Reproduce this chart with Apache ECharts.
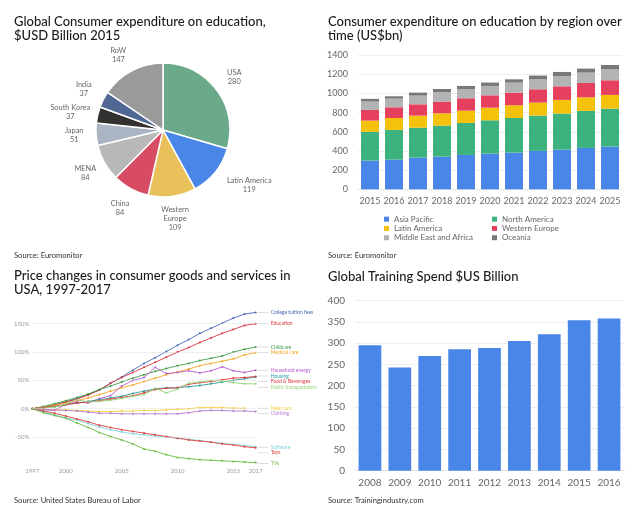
<!DOCTYPE html>
<html>
<head>
<meta charset="utf-8">
<script src="https://cdn.jsdelivr.net/npm/echarts@6/dist/echarts.min.js"></script>
<style>
html,body{margin:0;padding:0;background:#fff;}
#c{width:631px;height:515px;}
</style>
</head>
<body>
<div id="c"></div>
<script>
// ---- Panel 1: pie ----
const pieNames = ['USA','Latin America','Western Europe','China','MENA','Japan','South Korea','India','RoW'];
const pieValues = [280,119,109,84,84,51,37,37,147];

// ---- Panel 2: stacked bars ----
const regionYears = ['2015','2016','2017','2018','2019','2020','2021','2022','2023','2024','2025'];
const asiaPacific   = [300,310,331,341,359,373,383,401,414,432,446];
const northAmerica  = [300,310,313,324,334,348,362,369,377,387,397];
const latinAmerica  = [118,125,126,129,129,132,133,136,143,142,143];
const westernEurope = [112,112,118,122,129,129,132,139,142,150,153];
const middleEastAfrica = [87,90,91,98,94,98,105,104,108,108,118];
const oceania       = [28,25,31,34,35,35,34,39,42,42,42];
const regionNames = ['Asia Pacific','North America','Latin America','Western Europe','Middle East and Africa','Oceania'];

// ---- Panel 3: price changes ----
const priceYears = ['1997','1998','1999','2000','2001','2002','2003','2004','2005','2006','2007','2008','2009','2010','2011','2012','2013','2014','2015','2016','2017'];
const priceYearLabels = ['1997','2000','2005','2010','2015','2017'];
const priceTicks = [-50,0,50,100,150];
const tuition   = [0,3,7,12,18,25,33,45,56,68,80,90,101,112,122,133,142,151,160,167,170];
const education = [0,3,7,12,17,24,33,45,55,64,73,82,91,100,108,117,125,133,140,147,150];
const childcare = [0,4,9,14,20,26,34,40,47,54,60,66,71,76,80,85,89,93,100,105,109];
const medical   = [0,3,6,10,14,19,25,31,37,42,48,54,60,65,70,76,80,84,88,95,99];
const energy    = [0,-2,-3,8,12,10,18,23,40,50,55,73,62,64,67,63,67,74,67,64,68];
const housing   = [0,2,4,7,10,13,16,19,22,27,31,35,37,37,39,41,44,47,50,53,56];
const food      = [0,2,4,7,10,12,14,17,20,23,28,34,36,37,43,46,48,51,54,55,57];
const transport = [0,1,3,8,16,12,13,15,18,22,25,36,28,35,45,47,50,49,46,44,44];
const newCars   = [0,-1,-2,-2,-3,-4,-5,-5,-4,-4,-3,-3,-2,-1,0,2,2,2,1,1,null];
const clothing  = [0,-1,-2,-3,-4,-6,-8,-8,-9,-9,-9,-9,-9,-9,-7,-4,-3,-3,-4,-4,-5];
const software  = [0,-5,-11,-16,-20,-26,-32,-37,-41,-44,-46,-48,-50,-52,-54,-56,-59,-61,-63,-65,-67];
const toys      = [0,-4,-8,-13,-18,-23,-29,-33,-37,-40,-43,-46,-49,-52,-55,-57,-59,-62,-64,-67,-69];
const tvs       = [0,-7,-12,-17,-25,-33,-42,-49,-55,-62,-71,-75,-81,-86,-88,-90,-91,-92,-93,-94,-95];

// ---- Panel 4: training spend ----
const trainingYears = ['2008','2009','2010','2011','2012','2013','2014','2015','2016'];
const trainingSpend = [295,243,270,286,289,305,321,354,358];

const font = 'Lato';
const pieColors = ['#6aaa8a','#4a86e8','#e8c15a','#d84c63','#b8b8b6','#aab4c2','#333130','#4f6792','#9a9a9a'];
const pieLabelNudge = {'Latin America': [17, -1], 'South Korea': [-6, 2], 'RoW': [-3, 4]};
const regionColors = ['#4a86e8','#3cb37f','#f4c20d','#e5415f','#b3b3b3','#787878'];

const priceSeriesDef = [
  ['College tuition fees', tuition,  '#4a68b8', 0, 0],
  ['Education',            education,'#d9363e', 0, 0],
  ['Childcare',            childcare,'#3e9e48', 0, 0],
  ['Medical care',         medical,  '#f5a623', 0, 0],
  ['Household energy',     energy,   '#b55ccf', 0, 0],
  ['Housing',              housing,  '#2b9a9a', 0, -1],
  ['Food & Beverages',     food,     '#e03a3a', 0, 5],
  ['Public transportation',transport,'#96d47a', 0, 3.5],
  ['New cars',             newCars,  '#f5cc3c', 11.2, 0],
  ['Clothing',             clothing, '#b27acb', 0, 2],
  ['Software',             software, '#7fd2df', 0, 0.5],
  ['Toys',                 toys,     '#e3413b', 0, 5],
  ['TVs',                  tvs,      '#69bb3d', 0, 1]
];

const titleStyle = {fontSize: 13, fontWeight: 500, color: '#1b1b1b', lineHeight: 14, fontFamily: font};
const srcStyle = {fontSize: 7.6, fontWeight: 'normal', color: '#333', fontFamily: font};

const series = [];

series.push({
  type: 'pie',
  center: [163, 130],
  radius: 67,
  startAngle: 90,
  clockwise: true,
  data: pieNames.map((n, i) => ({name: n, value: pieValues[i], itemStyle: {color: pieColors[i]}})),
  itemStyle: {borderColor: '#fff', borderWidth: 1.5},
  label: {show: false},
  labelLine: {show: false},
  silent: true
});
// transparent ring that only carries the centred labels
series.push({
  type: 'pie',
  center: [163, 130],
  radius: [68, 104],
  startAngle: 90,
  clockwise: true,
  data: pieNames.map((n, i) => {
    const item = {name: n, value: pieValues[i]};
    if (pieLabelNudge[n]) item.label = {offset: pieLabelNudge[n]};
    return item;
  }),
  itemStyle: {color: 'rgba(0,0,0,0)', borderWidth: 0},
  label: {
    show: true, position: 'inside', color: '#666', fontSize: 7.4, lineHeight: 9, fontFamily: font,
    align: 'center',
    formatter: p => (p.name === 'Western Europe' ? 'Western\nEurope' : p.name) + '\n' + p.value
  },
  labelLine: {show: false},
  emphasis: {disabled: true},
  silent: true
});

const regionData = [asiaPacific, northAmerica, latinAmerica, westernEurope, middleEastAfrica, oceania];
regionNames.forEach((n, i) => {
  series.push({
    name: n, type: 'bar', stack: 'region', xAxisIndex: 0, yAxisIndex: 0,
    data: regionData[i], itemStyle: {color: regionColors[i]}, barCategoryGap: '25%'
  });
});

priceSeriesDef.forEach((d, i) => {
  const s = {
    name: d[0], type: 'line', xAxisIndex: 1, yAxisIndex: 1, data: d[1],
    symbol: 'circle', symbolSize: 2, showSymbol: true,
    lineStyle: {width: 0.9, color: d[2]}, itemStyle: {color: d[2]},
    clip: false, silent: true,
    endLabel: {
      show: true, distance: 2, offset: [d[3], d[4]],
      formatter: '{l| }{n|' + d[0] + '}',
      rich: {
        l: {width: 11, height: 0.6, backgroundColor: '#c8c8c8'},
        n: {fontSize: 5, color: d[2], fontFamily: font, padding: [0, 0, 0, 2]}
      }
    }
  };
  if (i === 0) {
    s.markLine = {
      silent: true, symbol: 'none', label: {show: false},
      lineStyle: {type: 'dotted', color: '#d8d8d8', width: 0.8},
      data: priceTicks.map(v => ({yAxis: v}))
    };
  }
  series.push(s);
});

series.push({
  type: 'bar', xAxisIndex: 2, yAxisIndex: 2, data: trainingSpend,
  itemStyle: {color: '#4a86e8'}, barCategoryGap: '24%'
});

const option = {
  animation: false,
  textStyle: {fontFamily: font},
  title: [
    {text: 'Global Consumer expenditure on education,\n$USD Billion 2015', left: 14, top: 15, padding: 0, textStyle: titleStyle},
    {text: 'Consumer expenditure on education by region over\ntime (US$bn)', left: 328, top: 15, padding: 0, textStyle: titleStyle},
    {text: 'Price changes in consumer goods and services in\nUSA, 1997-2017', left: 14, top: 269, padding: 0, textStyle: titleStyle},
    {text: 'Global Training Spend $US Billion', left: 328, top: 270, padding: 0, textStyle: titleStyle},
    {text: 'Source: Euromonitor', left: 14, top: 251.5, padding: 0, textStyle: srcStyle},
    {text: 'Source: Euromonitor', left: 328, top: 251.5, padding: 0, textStyle: srcStyle},
    {text: 'Source: United States Bureau of Labor', left: 14, top: 497, padding: 0, textStyle: srcStyle},
    {text: 'Source: Trainingindustry.com', left: 328, top: 497, padding: 0, textStyle: srcStyle}
  ],
  legend: {
    data: regionNames, left: 384, top: 215, width: 230, orient: 'horizontal',
    icon: 'rect', itemWidth: 5, itemHeight: 5, itemGap: 1, padding: 0,
    textStyle: {fontSize: 8, color: '#666', width: 97, lineHeight: 8.3, fontFamily: font},
    selectedMode: false
  },
  grid: [
    {left: 358, top: 55.3, width: 264, height: 134, outerBoundsMode: 'none'},
    {left: 32.3, top: 295.4, width: 223.4, height: 170, outerBoundsMode: 'none'},
    {left: 355, top: 300.7, width: 269, height: 170, outerBoundsMode: 'none'}
  ],
  xAxis: [
    {gridIndex: 0, type: 'category', data: regionYears, axisTick: {show: false},
     axisLine: {lineStyle: {color: '#e6e6e6'}},
     axisLabel: {fontSize: 9, color: '#666', margin: 7, interval: 0, hideOverlap: false}},
    {gridIndex: 1, type: 'category', data: priceYears, boundaryGap: false, axisTick: {show: false},
     axisLine: {show: false},
     axisLabel: {fontSize: 6, color: '#999', margin: 3, interval: (i, v) => priceYearLabels.includes(v)}},
    {gridIndex: 2, type: 'category', data: trainingYears, axisTick: {show: false},
     axisLine: {lineStyle: {color: '#e6e6e6'}},
     axisLabel: {fontSize: 10, color: '#666', margin: 7, interval: 0, hideOverlap: false}}
  ],
  yAxis: [
    {gridIndex: 0, type: 'value', min: 0, max: 1400, interval: 200,
     axisLabel: {fontSize: 9, color: '#666', margin: 10, formatter: v => String(v)},
     splitLine: {lineStyle: {color: '#eeeeee'}}},
    {gridIndex: 1, type: 'value', min: -100, max: 200, interval: 50, splitLine: {show: false},
     axisLine: {show: false}, axisTick: {show: false},
     axisLabel: {fontSize: 6, color: '#999', margin: 3,
       formatter: v => priceTicks.includes(v) ? v + '%' : ''}},
    {gridIndex: 2, type: 'value', min: 0, max: 400, interval: 50,
     axisLabel: {fontSize: 10, color: '#666', margin: 10, formatter: v => String(v)},
     splitLine: {lineStyle: {color: '#eeeeee'}}}
  ],
  series: series
};

const chart = echarts.init(document.getElementById('c'), null, {renderer: 'canvas'});
chart.setOption(option);
</script>
</body>
</html>
